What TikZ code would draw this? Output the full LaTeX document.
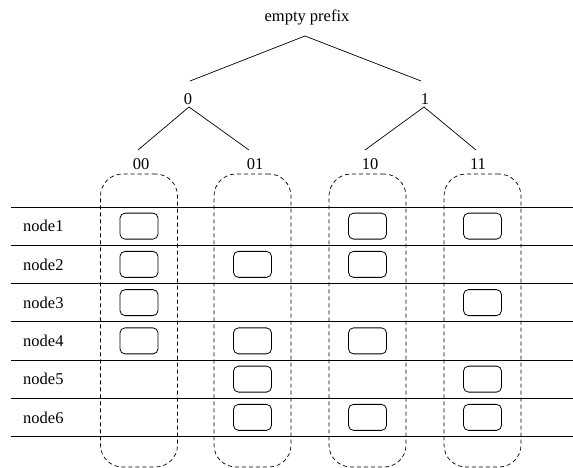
\documentclass[tikz,border=0pt]{standalone}
\usepackage{fontspec}
\setmainfont{Liberation Serif}
\begin{document}
\begin{tikzpicture}[x=1pt,y=-1pt,
  lbl/.style={font=\fontsize{16.5}{19}\selectfont, inner sep=0pt},
  edge/.style={line width=0.7pt},
  rowline/.style={line width=0.8pt},
  group/.style={draw, dashed, dash pattern=on 4pt off 3pt, line width=0.7pt, rounded corners=22pt, minimum width=77pt, minimum height=293pt, inner sep=0pt},
  member/.style={draw, line width=0.8pt, rounded corners=5pt, minimum width=38pt, minimum height=26pt, inner sep=0pt}]
\useasboundingbox (0,0) rectangle (573,468);
% tree
\node[lbl] (root) at (307,17) {empty prefix};
\node[lbl] (n0) at (188,99) {0};
\node[lbl] (n1) at (425,99) {1};
\node[lbl] (n00) at (141,164) {00};
\node[lbl] (n01) at (255,164) {01};
\node[lbl] (n10) at (370,164) {10};
\node[lbl] (n11) at (478,164) {11};
\coordinate (rootb) at (305,36);
\coordinate (n0t) at (190,81);
\coordinate (n1t) at (421,81);
\coordinate (n0b) at (189,107);
\coordinate (n1b) at (424,107);
\coordinate (n00t) at (138,150);
\coordinate (n01t) at (249,150);
\coordinate (n10t) at (365,150);
\coordinate (n11t) at (476,150);
\draw[edge] (n0t) -- (rootb) -- (n1t);
\draw[edge] (n00t) -- (n0b) -- (n01t);
\draw[edge] (n10t) -- (n1b) -- (n11t);
% row lines
\foreach \i/\y in {0/207,1/245.25,2/283.5,3/321.75,4/360,5/398.25,6/436.5}{
  \coordinate (l\i) at (11,\y);
  \coordinate (r\i) at (573,\y);
  \draw[rowline] (l\i) -- (r\i);
}
% row labels
\foreach \i in {1,...,6}{
  \node[lbl, anchor=west] (lab\i) at (23,{207+38.25*(\i-0.5)}) {node\i};
}
% groups
\node[group] (g00) at (139,320.5) {};
\node[group] (g01) at (252.5,320.5) {};
\node[group] (g10) at (367.5,320.5) {};
\node[group] (g11) at (482.5,320.5) {};
% members
\foreach \r/\cols in {1/{00,10,11},2/{00,01,10},3/{00,11},4/{00,01,10},5/{01,11},6/{01,10,11}}{
  \foreach \c in \cols {
    \node[member] (m\r-\c) at (g\c.center |- lab\r.west) {};
  }
}
\end{tikzpicture}
\end{document}
